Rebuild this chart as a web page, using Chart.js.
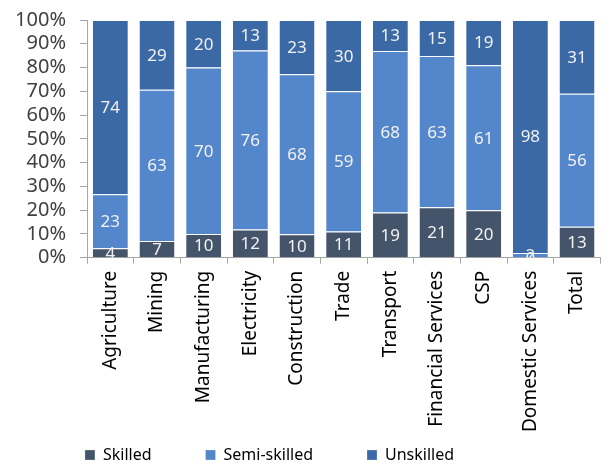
<!DOCTYPE html>
<html>
<head>
<meta charset="utf-8">
<script src="https://cdn.jsdelivr.net/npm/chart.js@4.4.1/dist/chart.umd.min.js"></script>
<style>
  html, body { margin: 0; padding: 0; background: #fff; }
</style>
</head>
<body>
<canvas id="chartSkills" width="607" height="467"></canvas>
<script>
// share of employment by skill level, per sector (%)
var sectors = ['Agriculture', 'Mining', 'Manufacturing', 'Electricity', 'Construction', 'Trade',
    'Transport', 'Financial Services', 'CSP', 'Domestic Services', 'Total'];
var skilled = [4, 7, 10, 12, 10, 11, 19, 21, 20, 0, 13];
var semiSkilled = [23, 63, 70, 76, 68, 59, 68, 63, 61, 2, 56];
var unskilled = [74, 29, 20, 13, 23, 30, 13, 15, 19, 98, 31];
var yTickValues = [0, 10, 20, 30, 40, 50, 60, 70, 80, 90, 100];

var FONT = '"Noto Sans", "DejaVu Sans", sans-serif';
var LEGEND_GAP = 54;

// 100% stacked: each column scaled to its own total
function toShare(values) {
    return values.map(function (v, i) {
        return v / (skilled[i] + semiSkilled[i] + unskilled[i]) * 100;
    });
}

var barLabels = {
    id: 'barLabels',
    afterDatasetsDraw: function (chart) {
        var ctx = chart.ctx;
        var area = chart.chartArea;
        ctx.save();
        ctx.beginPath();
        ctx.rect(area.left, area.top, area.right - area.left, area.bottom - area.top);
        ctx.clip();
        ctx.font = '17px ' + FONT;
        ctx.fillStyle = '#f2f2f2';
        ctx.textAlign = 'center';
        ctx.textBaseline = 'middle';
        chart.data.datasets.forEach(function (ds, i) {
            chart.getDatasetMeta(i).data.forEach(function (bar, j) {
                var c = bar.getCenterPoint();
                ctx.fillText(ds.values[j], c.x, c.y + 1);
            });
        });
        ctx.restore();
    }
};

// wide gaps between legend items but a short legend box:
// items are drawn LEGEND_GAP below the box top, so raise the top edge
var legendShift = {
    id: 'legendShift',
    afterLayout: function (chart) {
        var lg = chart.legend;
        lg.left -= 32; lg.right -= 32;
        lg.top -= 46;
    }
};

function makeSet(label, values, color) {
    return {
        label: label,
        values: values,
        data: toShare(values),
        backgroundColor: color,
        borderColor: '#ffffff',
        borderWidth: { top: 1, bottom: 0, left: 0, right: 0 },
        borderSkipped: false,
        categoryPercentage: 0.75,
        barPercentage: 1
    };
}

new Chart(document.getElementById('chartSkills'), {
    type: 'bar',
    data: {
        labels: sectors,
        datasets: [
            makeSet('Skilled', skilled, '#44546a'),
            makeSet('Semi-skilled', semiSkilled, '#5486cc'),
            makeSet('Unskilled', unskilled, '#3a69a6')
        ]
    },
    plugins: [barLabels, legendShift],
    options: {
        responsive: false,
        animation: false,
        layout: { padding: { top: 0, right: 4, left: 0, bottom: 0 } },
        plugins: {
            tooltip: { enabled: false },
            legend: {
                position: 'bottom',
                maxHeight: 28,
                labels: {
                    boxWidth: 10,
                    boxHeight: 10,
                    padding: LEGEND_GAP,
                    color: '#000',
                    font: { family: FONT, size: 16 }
                }
            }
        },
        scales: {
            x: {
                stacked: true,
                grid: { drawOnChartArea: false, offset: true, tickLength: 6, color: '#a6a6a6' },
                border: { color: '#a6a6a6' },
                ticks: {
                    minRotation: 90,
                    maxRotation: 90,
                    padding: 7,
                    color: '#000',
                    font: { family: FONT, size: 19 }
                }
            },
            y: {
                stacked: true,
                min: 0,
                max: 100,
                afterBuildTicks: function (scale) {
                    scale.ticks = yTickValues.map(function (v) { return { value: v }; });
                },
                afterFit: function (scale) {
                    scale.width = 87;
                    scale.paddingTop = 20;
                },
                grid: { drawOnChartArea: false, tickLength: 7, color: '#a6a6a6' },
                border: { color: '#a6a6a6' },
                ticks: {
                    autoSkip: false,
                    padding: 14,
                    color: '#404040',
                    font: { family: FONT, size: 20 },
                    callback: function (v) { return v + '%'; }
                }
            }
        }
    }
});
</script>
</body>
</html>
